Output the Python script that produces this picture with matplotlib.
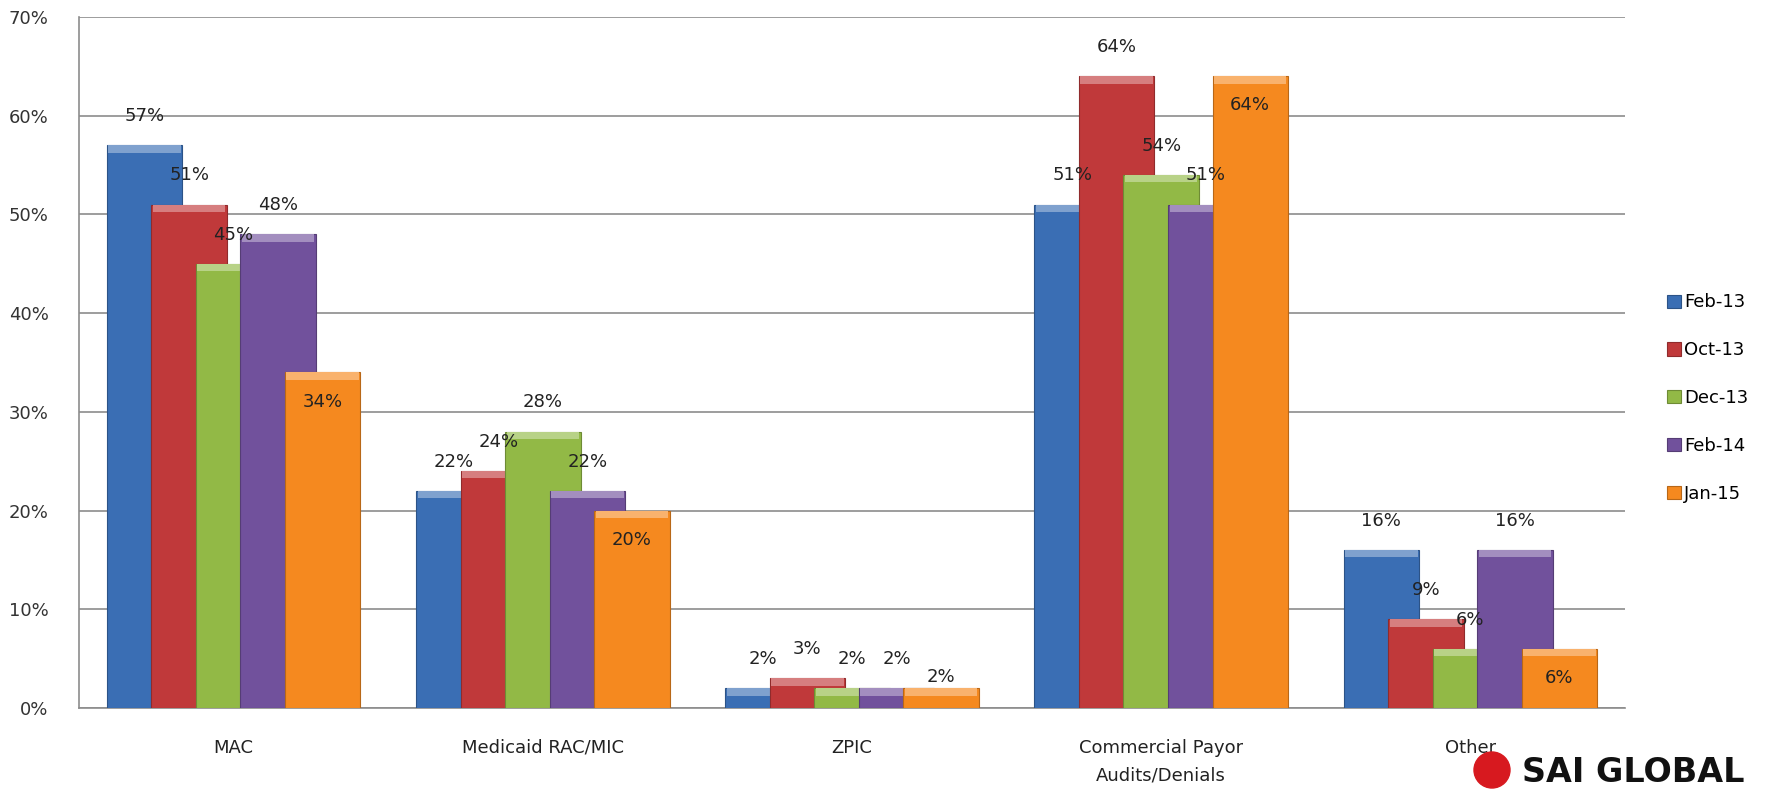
import matplotlib
matplotlib.use("Agg")
import matplotlib.pyplot as plt
import matplotlib.colors as mcolors
from matplotlib.patches import Ellipse
import numpy as np

categories = ["MAC", "Medicaid RAC/MIC", "ZPIC", "Commercial Payor\nAudits/Denials", "Other"]
series_names = ["Feb-13", "Oct-13", "Dec-13", "Feb-14", "Jan-15"]
feb13 = [57, 22, 2, 51, 16]
oct13 = [51, 24, 3, 64, 9]
dec13 = [45, 28, 2, 54, 6]
feb14 = [48, 22, 2, 51, 16]
jan15 = [34, 20, 2, 64, 6]
yticks = [0, 10, 20, 30, 40, 50, 60, 70]
ytick_labels = ["0%", "10%", "20%", "30%", "40%", "50%", "60%", "70%"]

series = [feb13, oct13, dec13, feb14, jan15]
colors = ["#3A6EB4", "#C0393A", "#92B946", "#71519C", "#F5891F"]

W, H = 1766, 789
fig = plt.figure(figsize=(W / 100, H / 100), dpi=100)
ax = fig.add_axes([79 / W, 1 - 708 / H, (1625 - 79) / W, (708 - 17) / H])

x = np.arange(len(categories))
step = 0.144
width = 0.244
band = 0.75

for j, (vals, col) in enumerate(zip(series, colors)):
    pos = x + (j - 2) * step
    dark = tuple(c * 0.75 for c in mcolors.to_rgb(col))
    light = tuple(min(1, c + (1 - c) * 0.35) for c in mcolors.to_rgb(col))
    ax.bar(pos, vals, width, color=col, edgecolor=dark, linewidth=0.8,
           zorder=3 + j, label=series_names[j])
    v = np.array(vals, dtype=float)
    ax.bar(pos, np.minimum(band, v), width * 0.96, bottom=v - np.minimum(band, v),
           color=light, linewidth=0, zorder=3 + j)
    for p, val in zip(pos, vals):
        if j == 4:
            off = 8 if val < 5 else -21
        else:
            off = 21
        ax.annotate(f"{val}%", (p, val), xytext=(0, off), textcoords="offset points",
                    ha="center", va="center", fontsize=13, color="#222222", zorder=20)

ax.set_xlim(-0.5, len(categories) - 0.5)
ax.set_ylim(0, 70)
ax.set_yticks(yticks)
ax.set_yticklabels(ytick_labels, fontsize=13, color="#333333")
ax.set_xticks(x)
ax.set_xticklabels(categories, fontsize=13, color="#222222", linespacing=1.7, va="top")
ax.tick_params(axis="y", length=0, pad=22)
ax.tick_params(axis="x", length=0, pad=22)
ax.grid(axis="y", color="#8C8C8C", linewidth=1.2, zorder=0)
ax.set_axisbelow(True)
for s in ["top", "right"]:
    ax.spines[s].set_visible(False)
for s in ["left", "bottom"]:
    ax.spines[s].set_color("#8C8C8C")
    ax.spines[s].set_linewidth(1.2)

handles, labels = ax.get_legend_handles_labels()
fig.legend(handles, labels, loc="center left", bbox_to_anchor=(1658 / W, 1 - 398 / H),
           frameon=False, fontsize=13, handlelength=0.75, handleheight=0.75,
           handletextpad=0.2, labelspacing=1.65, borderpad=0)

# logo
fig.text(1522 / W, 1 - 773 / H, "SAI GLOBAL", fontsize=24, fontweight="bold",
         color="#111111", va="center", ha="left")
logo = Ellipse((1492 / W, 1 - 770 / H), 36 / W, 36 / H, transform=fig.transFigure,
               color="#D7191F", zorder=10)
fig.patches.append(logo)

fig.savefig("out.png", dpi=100)
